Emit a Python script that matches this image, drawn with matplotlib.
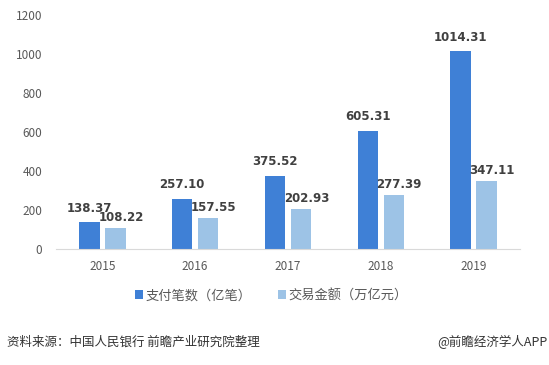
import numpy as np
import matplotlib
matplotlib.use("Agg")
import matplotlib.pyplot as plt

plt.rcParams['font.family'] = ['Noto Sans CJK SC', 'DejaVu Sans']

years = ['2015', '2016', '2017', '2018', '2019']
payments = [138.37, 257.10, 375.52, 605.31, 1014.31]   # 支付笔数（亿笔）
amounts = [108.22, 157.55, 202.93, 277.39, 347.11]      # 交易金额（万亿元）

c_blue = '#3F80D6'
c_light = '#9DC3E6'
c_text = '#595959'

fig = plt.figure(figsize=(5.49, 3.65), dpi=100)
ax = fig.add_axes([0.102, 0.318, 0.845, 0.641])

x = np.arange(len(years))
w = 0.22
gap = 0.03
b1 = ax.bar(x - w / 2 - gap, payments, w, color=c_blue, label='支付笔数（亿笔）')
b2 = ax.bar(x + w / 2 + gap, amounts, w, color=c_light, label='交易金额（万亿元）')

# value labels (light bar labels sit a little to the right, as in the source)
for bars, vals, dx, dy in ((b1, payments, 0, 7.5), (b2, amounts, 4, 5)):
    for r, v in zip(bars, vals):
        ax.annotate(f'{v:.2f}', (r.get_x() + r.get_width() / 2, v),
                    xytext=(dx, dy), textcoords='offset points',
                    ha='center', va='baseline', fontsize=8.5, fontweight='bold',
                    color='#404040', family='DejaVu Sans')

ax.set_xlim(-0.5, 4.5)
ax.set_ylim(0, 1200)
ax.set_yticks(range(0, 1201, 200))
ax.set_xticks(x)
ax.set_xticklabels(years)
ax.tick_params(axis='both', length=0, labelsize=8.5, colors=c_text)
ax.tick_params(axis='y', pad=10)
ax.tick_params(axis='x', pad=8)
for s in ('top', 'right', 'left'):
    ax.spines[s].set_visible(False)
ax.spines['bottom'].set_color('#D9D9D9')

leg = fig.legend(handles=[b1, b2], loc='center', bbox_to_anchor=(0.495, 0.19),
                 ncol=2, frameon=False, fontsize=9.5, handlelength=0.6,
                 handleheight=0.6, handletextpad=0.2, columnspacing=2.0)
for t in leg.get_texts():
    t.set_color(c_text)

fig.text(0.012, 0.063, '资料来源：中国人民银行 前瞻产业研究院整理', fontsize=9,
         color='#333333', va='center', ha='left')
fig.text(0.998, 0.063, '@前瞻经济学人APP', fontsize=9, color='#333333',
         va='center', ha='right')

fig.savefig('out.png', dpi=100)
